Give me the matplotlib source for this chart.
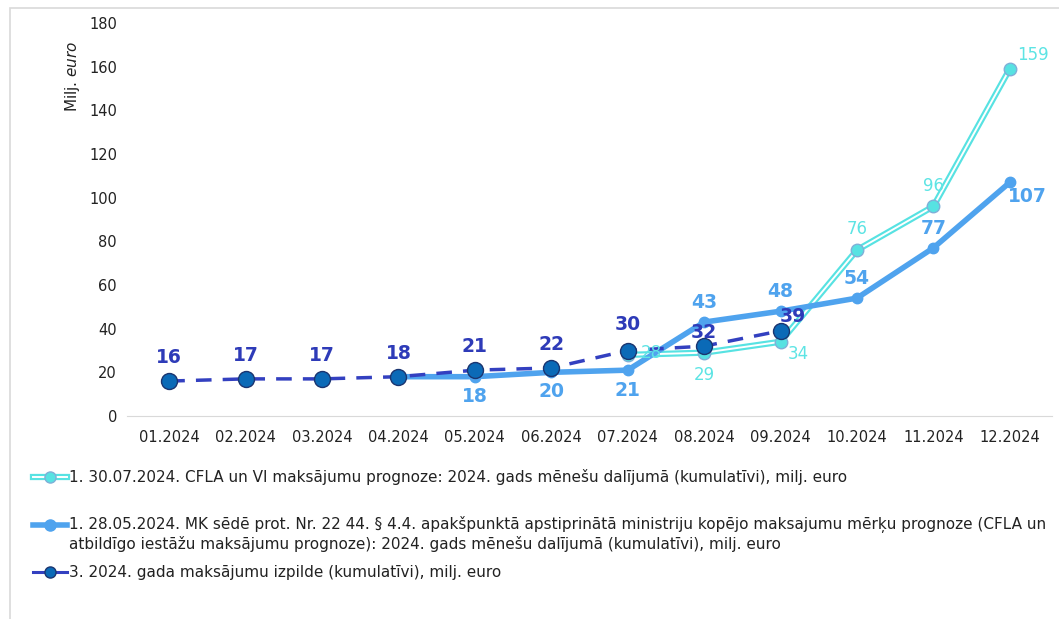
import matplotlib.pyplot as plt
import matplotlib.patheffects as pe
from matplotlib.lines import Line2D
from matplotlib.patches import Rectangle

# data
months = ['01.2024', '02.2024', '03.2024', '04.2024', '05.2024', '06.2024',
          '07.2024', '08.2024', '09.2024', '10.2024', '11.2024', '12.2024']
cfla_idx = [6, 7, 8, 9, 10, 11]
cfla_vals = [28, 29, 34, 76, 96, 159]
mk_idx = [3, 4, 5, 6, 7, 8, 9, 10, 11]
mk_vals = [18, 18, 20, 21, 43, 48, 54, 77, 107]
izp_idx = [0, 1, 2, 3, 4, 5, 6, 7, 8]
izp_vals = [16, 17, 17, 18, 21, 22, 30, 32, 39]

legend_labels = [
    '1. 30.07.2024. CFLA un VI maksājumu prognoze: 2024. gads mēnešu dalījumā (kumulatīvi), milj. euro',
    '1. 28.05.2024. MK sēdē prot. Nr. 22 44. § 4.4. apakšpunktā apstiprinātā ministriju kopējo maksajumu mērķu prognoze (CFLA un\n'
    'atbildīgo iestāžu maksājumu prognoze): 2024. gads mēnešu dalījumā (kumulatīvi), milj. euro',
    '3. 2024. gada maksājumu izpilde (kumulatīvi), milj. euro',
]

CYAN = '#57E2E2'
MK = '#4FA3EE'
NAVY = '#3340C0'
DOT = '#0B6AB7'

W, H = 1059, 619
fig = plt.figure(figsize=(W / 100, H / 100), dpi=100)
ax = fig.add_axes([131 / W, 1 - 416 / H, (1048 - 131) / W, (416 - 23) / H])

# frame around the chart area
fig.add_artist(Rectangle((10 / W, -0.05), 1.1, 1 - 8 / H + 0.05, transform=fig.transFigure,
                         fill=False, edgecolor='#D9D9D9', linewidth=1.2))

# CFLA series: double line
dbl = [pe.Stroke(linewidth=4.5, foreground=CYAN), pe.Normal()]
ax.plot(cfla_idx, cfla_vals, color='white', linewidth=1.4, path_effects=dbl, zorder=3)
ax.plot(cfla_idx, cfla_vals, linestyle='none', marker='o', markersize=9,
        markerfacecolor=CYAN, markeredgecolor='#7FB0D8', markeredgewidth=1, zorder=4)

# MK series
ax.plot(mk_idx, mk_vals, color=MK, linewidth=4, marker='o', markersize=7.5,
        markerfacecolor=MK, markeredgecolor=MK, zorder=5)

# actual payments
ax.plot(izp_idx, izp_vals, color=NAVY, linewidth=2.5, dashes=(4.5, 3.2), zorder=6)
ax.plot(izp_idx, izp_vals, linestyle='none', marker='o', markersize=11.5,
        markerfacecolor=DOT, markeredgecolor='#1B3570', markeredgewidth=1, zorder=7)

# data labels
izp_off = {6: (0, 19), 7: (0, 10), 8: (9, 10)}
for i, v in zip(izp_idx, izp_vals):
    dx, dy = izp_off.get(i, (0, 17))
    ax.annotate(str(v), (i, v), xytext=(dx, dy), textcoords='offset points',
                ha='center', va='center', color='#2E3BB8', fontsize=13.5,
                fontweight='bold', zorder=8)

mk_off = {4: (0, -14), 5: (0, -14), 6: (0, -15), 7: (0, 14), 8: (0, 14),
          9: (0, 14), 10: (0, 14), 11: (13, -10)}
for i, v in zip(mk_idx, mk_vals):
    if i not in mk_off:
        continue
    dx, dy = mk_off[i]
    ax.annotate(str(v), (i, v), xytext=(dx, dy), textcoords='offset points',
                ha='center', va='center', color=MK, fontsize=13.5,
                fontweight='bold', zorder=8)

cfla_off = {6: (17, 1), 7: (0, -16), 8: (13, -9), 9: (0, 15), 10: (0, 15), 11: (17, 10)}
for i, v in zip(cfla_idx, cfla_vals):
    dx, dy = cfla_off[i]
    ax.annotate(str(v), (i, v), xytext=(dx, dy), textcoords='offset points',
                ha='center', va='center', color='#5DE4E4', fontsize=12, zorder=8)

# axes styling
ax.set_xlim(-0.5, len(months) - 0.5)
ax.set_ylim(0, 180)
ax.set_yticks(range(0, 181, 20))
ax.set_xticks(range(len(months)))
ax.set_xticklabels(months)
ax.tick_params(axis='both', length=0, labelsize=10.5, colors='#222222')
ax.tick_params(axis='y', pad=10)
ax.tick_params(axis='x', pad=10)
for s in ['top', 'right', 'left']:
    ax.spines[s].set_visible(False)
ax.spines['bottom'].set_color('#D9D9D9')
ax.spines['bottom'].set_bounds(-0.55, 11.55)
ax.spines['bottom'].set_clip_on(False)

fig.text(72 / W, 1 - 76 / H, 'Milj. $\\it{euro}$', rotation=90, ha='center', va='center',
         fontsize=11, color='#222222')


# legend drawn by hand to match the uneven spacing
def px(x, y):
    return x / W, 1 - y / H


def handle_line(y, kind):
    xs = [px(33, y)[0], px(67, y)[0]]
    ys = [px(0, y)[1]] * 2
    mx, my = px(50, y)
    if kind == 0:
        fig.add_artist(Line2D(xs, ys, color='white', linewidth=1.4, path_effects=dbl,
                              transform=fig.transFigure))
        fig.add_artist(Line2D([mx], [my], marker='o', markersize=8, markerfacecolor=CYAN,
                              markeredgecolor='#7FB0D8', transform=fig.transFigure))
    elif kind == 1:
        fig.add_artist(Line2D(xs, ys, color=MK, linewidth=4, transform=fig.transFigure))
        fig.add_artist(Line2D([mx], [my], marker='o', markersize=8, markerfacecolor=MK,
                              markeredgecolor=MK, transform=fig.transFigure))
    else:
        fig.add_artist(Line2D(xs, ys, color=NAVY, linewidth=2.2, transform=fig.transFigure))
        fig.add_artist(Line2D([mx], [my], marker='o', markersize=8, markerfacecolor=DOT,
                              markeredgecolor='#1B3570', transform=fig.transFigure))


leg_y = [477, 525, 572]
for k, (lab, y) in enumerate(zip(legend_labels, leg_y)):
    handle_line(y, k)
    if '\n' in lab:
        fig.text(69 / W, 1 - (y - 9) / H, lab, ha='left', va='top', fontsize=11,
                 color='#222222', linespacing=1.2)
    else:
        fig.text(69 / W, 1 - y / H, lab, ha='left', va='center', fontsize=11,
                 color='#222222')

fig.savefig('out.png', dpi=100)
